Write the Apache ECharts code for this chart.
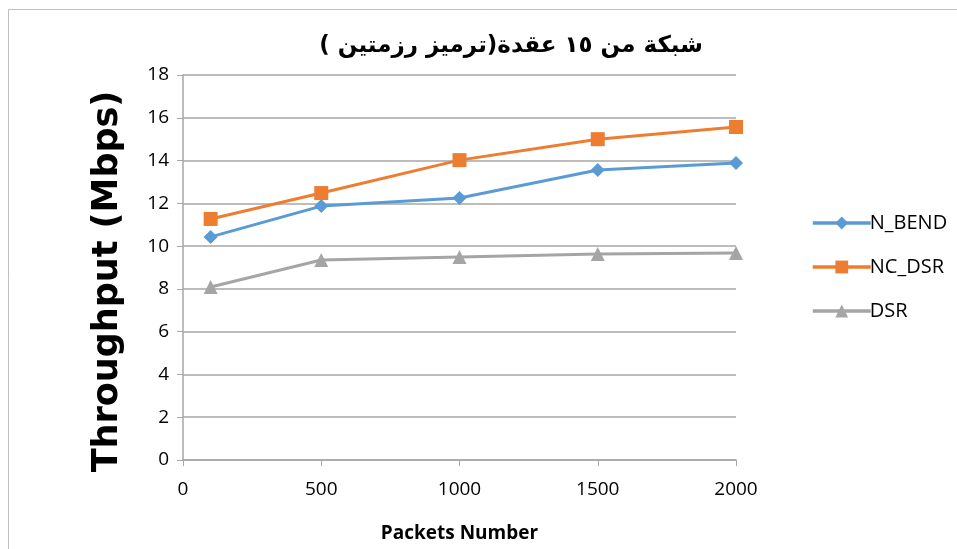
<!DOCTYPE html>
<html>
<head>
<meta charset="utf-8">
<script src="https://cdn.jsdelivr.net/npm/echarts@6/dist/echarts.min.js"></script>
<style>
  html, body { margin: 0; padding: 0; background: #fff; }
  #chart { width: 957px; height: 549px; }
</style>
</head>
<body>
<div id="chart"></div>
<script>
// packets number (x) and throughput values
const packets = [100, 500, 1000, 1500, 2000];
const nBend = [10.43, 11.87, 12.25, 13.56, 13.88];
const ncDsr = [11.27, 12.48, 14.02, 15.0, 15.57];
const dsr = [8.09, 9.35, 9.49, 9.63, 9.68];

const pairs = (ys) => packets.map((x, i) => [x, ys[i]]);

const chart = echarts.init(document.getElementById("chart"));

const option = {
  animation: false,
  title: {
    text: "شبكة من ١٥ عقدة(ترميز رزمتين )",
    left: 506,
    top: 30,
    textAlign: "center",
    textStyle: {
      fontSize: 23,
      fontWeight: "bold",
      color: "#000",
      fontFamily: "DejaVu Sans",
    },
  },
  color: ["#5b9bd5", "#ed7d31", "#a5a5a5"],
  legend: {
    orient: "vertical",
    left: 806,
    top: 208,
    itemGap: 24,
    itemWidth: 58,
    itemHeight: 16,
    lineStyle: { width: 3.5 },
    textStyle: { fontSize: 20, color: "#000", fontFamily: "Open Sans", padding: [0, 0, 0, -6] },
    data: ["N_BEND", "NC_DSR", "DSR"],
  },
  grid: {
    left: 183,
    right: 957 - 736,
    top: 75,
    bottom: 549 - 460,
  },
  xAxis: {
    type: "value",
    min: 0,
    max: 2000,
    interval: 500,
    name: "Packets Number",
    nameLocation: "middle",
    nameGap: 64,
    nameTextStyle: { fontSize: 19, fontWeight: "bold", color: "#000", fontFamily: "Open Sans" },
    axisLine: { lineStyle: { color: "#a6a6a6", width: 1.5 } },
    axisTick: { show: true, length: 6, lineStyle: { color: "#a6a6a6" } },
    axisLabel: { fontSize: 19, color: "#000", margin: 20, fontFamily: "Open Sans", formatter: (v) => String(v) },
    splitLine: { show: false },
  },
  yAxis: {
    type: "value",
    min: 0,
    max: 18,
    interval: 2,
    name: "Throughput (Mbps)",
    nameLocation: "middle",
    nameGap: 58,
    nameTextStyle: {
      fontSize: 35,
      fontWeight: "bold",
      color: "#000",
      fontFamily: "DejaVu Sans",
      padding: [0, 28, 0, 0],
    },
    axisLine: { show: true, lineStyle: { color: "#a6a6a6", width: 1.5 } },
    axisTick: { show: true, length: 6, lineStyle: { color: "#a6a6a6" } },
    axisLabel: { fontSize: 19, color: "#000", margin: 14, fontFamily: "Open Sans" },
    splitLine: { lineStyle: { color: "#a6a6a6", width: 1.5 } },
  },
  series: [
    {
      name: "N_BEND",
      type: "line",
      data: pairs(nBend),
      symbol: "diamond",
      symbolSize: 14,
      lineStyle: { width: 3 },
    },
    {
      name: "NC_DSR",
      type: "line",
      data: pairs(ncDsr),
      symbol: "rect",
      symbolSize: 14,
      lineStyle: { width: 3 },
    },
    {
      name: "DSR",
      type: "line",
      data: pairs(dsr),
      symbol: "triangle",
      symbolSize: 14,
      lineStyle: { width: 3 },
    },
  ],
  graphic: [
    {
      type: "rect",
      shape: { x: 8.5, y: 9.5, width: 960, height: 560 },
      style: { fill: "none", stroke: "#bfbfbf", lineWidth: 1 },
      silent: true,
    },
  ],
};

chart.setOption(option);
</script>
</body>
</html>
